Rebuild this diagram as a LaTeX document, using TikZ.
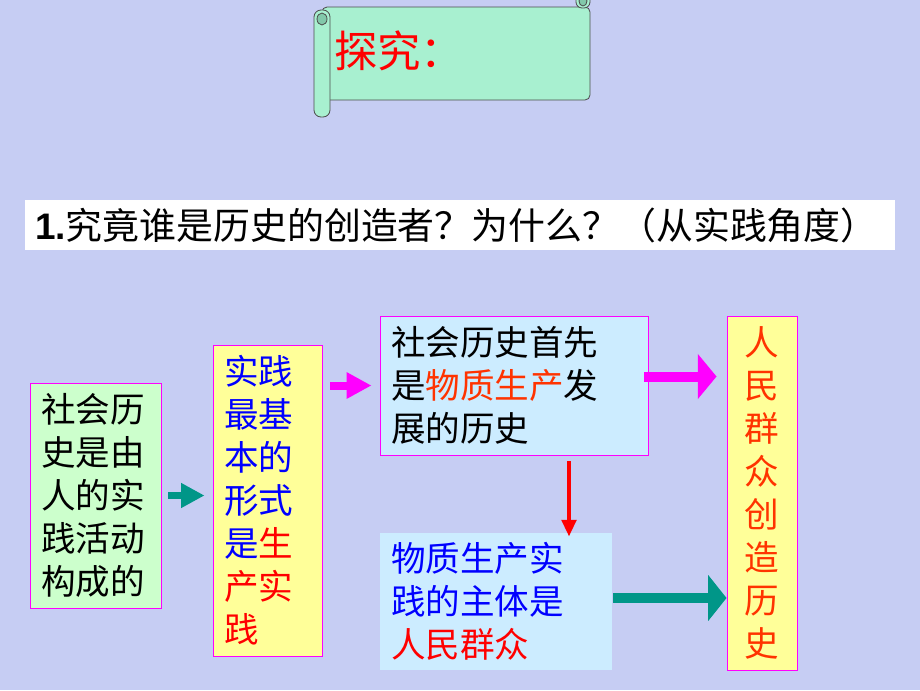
\documentclass[tikz,border=0pt]{standalone}
\usepackage{fontspec}
\newfontfamily\cjk{Noto Sans CJK SC}
\newfontfamily\latn{Liberation Sans}
\usetikzlibrary{arrows.meta}
\newdimen\px \px=0.03cm
\definecolor{slidebg}{RGB}{198,205,243}
\definecolor{scrollgreen}{RGB}{168,240,208}
\definecolor{rolldark}{RGB}{130,200,170}
\definecolor{boxgreen}{RGB}{204,255,204}
\definecolor{boxyellow}{RGB}{255,255,153}
\definecolor{boxblue}{RGB}{204,236,255}
\definecolor{framepink}{RGB}{255,0,255}
\definecolor{arrowteal}{RGB}{0,150,136}
\definecolor{txtblue}{RGB}{0,0,255}
\definecolor{txtred}{RGB}{255,0,0}
\definecolor{txtorange}{RGB}{255,51,0}
\tikzset{
  textbox/.style={rectangle, draw=framepink, line width=0.8pt, inner xsep=11\px,
    inner ysep=0pt, align=left, font=\cjk\fontsize{29.5}{36.7}\selectfont},
  scrollline/.style={draw=black!70, line width=0.7pt},
  tealarrow/.style={draw=arrowteal},
  pinkarrow/.style={draw=framepink},
}
\begin{document}
\begin{tikzpicture}[x=0.03cm,y=-0.03cm]
  \useasboundingbox (0,0) rectangle (920,690);
  \fill[slidebg] (0,0) rectangle (920,690);
  % Scroll
  \draw[scrollline, fill=scrollgreen, rounded corners=5\px] (322,7) -- (590,7) -- (590,100) -- (322,100) -- cycle;
  \draw[scrollline, fill=scrollgreen, rounded corners=6\px] (576,-8) rectangle (590,8);
  \draw[scrollline, fill=rolldark] (583,1) ellipse (4 and 5);
  \draw[scrollline, fill=scrollgreen, rounded corners=7\px] (314,10) rectangle (330,117);
  \draw[scrollline, fill=rolldark] (322,19) ellipse (5 and 6);
  \node[anchor=west, text=txtred, inner sep=0pt, font=\cjk\fontsize{37}{40}\selectfont] (title) at (334,51) {探究：};
  % Question
  \node[fill=white, minimum width=870\px, minimum height=50\px, text width=850\px, inner xsep=10\px,
    align=left, font=\cjk\fontsize{31.5}{36}\selectfont] (question) at (460,225)
    {{\latn\bfseries 1.}究竟谁是历史的创造者？为什么？（从实践角度）};
  % Boxes
  \node[textbox, fill=boxgreen, text width=109\px, minimum height=225\px] (history) at (95.5,495.5)
    {社会历\\史是由\\人的实\\践活动\\构成的};
  \node[textbox, fill=boxyellow, text width=87\px, minimum height=311\px] (practice) at (267.5,500.5)
    {\color{txtblue}实践\\\color{txtblue}最基\\\color{txtblue}本的\\\color{txtblue}形式\\
     \color{txtblue}是\color{txtred}生\\\color{txtred}产实\\\color{txtred}践};
  \node[textbox, fill=boxblue, text width=246\px, minimum height=139\px] (society) at (514,385.5)
    {社会历史首先\\是\textcolor{txtorange}{物质生产}发\\展的历史};
  \node[textbox, draw=none, fill=boxblue, text width=210\px, minimum height=137\px] (subject) at (496,601.5)
    {\color{txtblue}物质生产实\\\color{txtblue}践的主体是\\\color{txtred}人民群众};
  \node[textbox, fill=boxyellow, text width=48\px, align=center, minimum height=354\px, text=txtorange] (masses) at (762,493)
    {人\\民\\群\\众\\创\\造\\历\\史};
  % Arrows
  \draw[tealarrow, line width=0.2cm, -{Triangle[length=0.7cm,width=0.7cm]}, shorten <=7\px, shorten >=8\px]
    (history.east) -- (history.east -| practice.west);
  \draw[pinkarrow, line width=0.24cm, -{Triangle[length=0.75cm,width=0.75cm]}, shorten <=8\px, shorten >=8\px]
    (practice.east |- society.west) -- (society.west);
  \coordinate (sE) at ([yshift=9\px]society.east);
  \draw[pinkarrow, line width=0.3cm, -{Triangle[length=0.56cm,width=1.32cm]}, shorten <=-4\px, shorten >=10\px]
    (sE) -- (sE -| masses.west);
  \coordinate (sS) at ([xshift=55\px]society.south);
  \draw[txtred, line width=0.12cm, -{Triangle[length=0.5cm,width=0.43cm]}, shorten <=6\px, shorten >=-4\px]
    (sS) -- (sS |- subject.north);
  \coordinate (bE) at ([yshift=3.5\px]subject.east);
  \draw[tealarrow, line width=0.28cm, -{Triangle[length=0.55cm,width=1.35cm]}, shorten <=1\px]
    (bE) -- (bE -| masses.west);
\end{tikzpicture}
\end{document}
